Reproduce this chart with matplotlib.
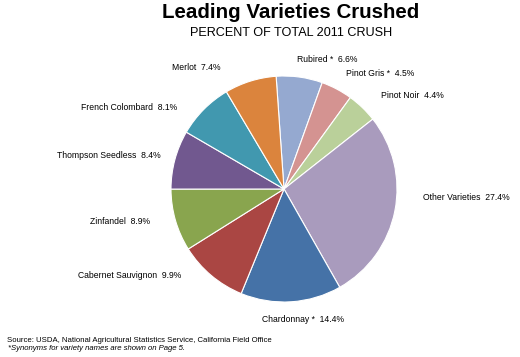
import matplotlib
matplotlib.use("Agg")
import matplotlib.pyplot as plt

plt.rcParams['font.family'] = ['Liberation Sans', 'DejaVu Sans']

varieties = ["Rubired *", "Pinot Gris *", "Pinot Noir", "Other Varieties", "Chardonnay *",
             "Cabernet Sauvignon", "Zinfandel", "Thompson Seedless", "French Colombard", "Merlot"]
shares = [6.6, 4.5, 4.4, 27.4, 14.4, 9.9, 8.9, 8.4, 8.1, 7.4]
colors = ["#95A9D0", "#D49391", "#BAD09A", "#A99BBD", "#4572A7",
          "#AA4643", "#89A54E", "#71588F", "#4198AF", "#DB843D"]

# label anchors in image pixels (left edge, vertical centre)
label_xy = [(297, 60), (346, 73), (381, 96), (423, 197), (262, 320),
            (78, 276), (90, 221), (57, 155), (81, 107), (172, 67)]

W, H = 520, 357
fig = plt.figure(figsize=(W / 100, H / 100), dpi=100)
ax = fig.add_axes([0, 0, 1, 1])
ax.set_aspect('equal')
ax.axis('off')

ax.pie(shares, colors=colors, startangle=94, counterclock=False,
       center=(284, H - 189), radius=113,
       wedgeprops=dict(edgecolor='white', linewidth=0.8))
ax.set_xlim(0, W)
ax.set_ylim(0, H)

for name, val, (x, y) in zip(varieties, shares, label_xy):
    ax.text(x, H - y, f"{name}  {val}%", ha='left', va='center', fontsize=6.2)

fig.text(291 / W, 1 - 13 / H, "Leading Varieties Crushed", ha='center', va='center',
         fontsize=14.8, fontweight='bold')
fig.text(291 / W, 1 - 33 / H, "PERCENT OF TOTAL 2011 CRUSH", ha='center', va='center',
         fontsize=9.1)
fig.text(7 / W, 1 - 340 / H,
         "Source: USDA, National Agricultural Statistics Service, California Field Office",
         ha='left', va='center', fontsize=5.6)
fig.text(8 / W, 1 - 348 / H, "*Synonyms for variety names are shown on Page 5.",
         ha='left', va='center', fontsize=5.6, style='italic')

fig.savefig("out.png", dpi=100)
